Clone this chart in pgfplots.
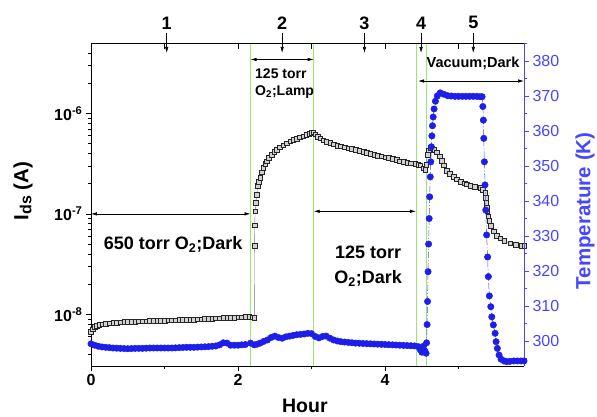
\documentclass[border=0pt]{standalone}
\usepackage{fontspec}
\setmainfont{Liberation Sans}
\usepackage{pgfplots}
\pgfplotsset{compat=1.18}
\usetikzlibrary{arrows.meta}

\definecolor{tblue}{RGB}{30,30,235}
\definecolor{ablue}{RGB}{70,70,255}
\definecolor{lgreen}{RGB}{150,235,110}

\tikzset{
  dbl/.style={line width=0.6pt, {Latex[length=6pt,width=3.5pt]}-{Latex[length=6pt,width=3.5pt]}},
  down/.style={line width=0.6pt, -{Latex[length=6pt,width=3.5pt]}},
}

\begin{document}
\begin{tikzpicture}
\useasboundingbox (-91pt,-50pt) rectangle (506pt,366pt);

% left axis: current, log scale
\begin{axis}[
  scale only axis, width=433pt, height=322.5pt,
  xmin=0, xmax=5.89,
  ymode=log, ymin=3.06e-9, ymax=4.96e-6,
  axis x line*=bottom, axis y line*=left,
  axis line style={line width=0.8pt},
  xtick={0,2,4}, minor xtick={1,3,5},
  ytick={1e-8,1e-7,1e-6},
  yticklabels={10\textsuperscript{-8},10\textsuperscript{-7},10\textsuperscript{-6}},
  minor ytick={4e-9,5e-9,6e-9,7e-9,8e-9,9e-9,2e-8,3e-8,4e-8,5e-8,6e-8,7e-8,8e-8,9e-8,2e-7,3e-7,4e-7,5e-7,6e-7,7e-7,8e-7,9e-7,2e-6,3e-6,4e-6},
  tick align=outside,
  major tick length=5pt, minor tick length=3pt,
  tick style={line width=0.6pt, black},
  ticklabel style={font=\fontsize{16}{18}\selectfont\bfseries},
  /pgf/number format/assume math mode=true,
  xlabel={Hour},
  xlabel style={font=\fontsize{19.5}{21}\selectfont\bfseries, at={(axis description cs:0.494,-0.124)}, anchor=center},
  ylabel={I\raisebox{-3pt}{\fontsize{16}{16}\selectfont ds} (A)},
  ylabel style={font=\fontsize{20.5}{22}\selectfont\bfseries, at={(axis description cs:-0.157,0.543)}, anchor=center},
  clip=false,
]
% phase boundaries
\draw[lgreen, line width=0.8pt] (axis cs:2.17,3.06e-9) -- (axis cs:2.17,4.96e-6);
\draw[lgreen, line width=0.8pt] (axis cs:3.03,3.06e-9) -- (axis cs:3.03,4.96e-6);
\draw[lgreen, line width=0.8pt] (axis cs:4.42,3.06e-9) -- (axis cs:4.42,4.96e-6);
\draw[lgreen, line width=0.8pt] (axis cs:4.56,3.06e-9) -- (axis cs:4.56,4.96e-6);

\addplot[black!55, line width=0.4pt, mark=square*, mark size=2.3pt,
  mark options={fill=black!18, draw=black!85, line width=0.4pt}] coordinates {
(0.00,6.7e-9)(0.02,7.1e-9)(0.05,7.5e-9)(0.08,7.7e-9)(0.11,7.85e-9)(0.15,8.0e-9)
(0.20,8.1e-9)(0.25,8.2e-9)(0.30,8.25e-9)(0.35,8.3e-9)(0.40,8.35e-9)(0.45,8.4e-9)
(0.50,8.45e-9)(0.55,8.48e-9)(0.60,8.5e-9)(0.65,8.53e-9)(0.70,8.55e-9)(0.75,8.58e-9)
(0.80,8.6e-9)(0.85,8.63e-9)(0.90,8.65e-9)(0.95,8.68e-9)(1.00,8.7e-9)(1.05,8.73e-9)
(1.10,8.75e-9)(1.15,8.78e-9)(1.20,8.8e-9)(1.25,8.83e-9)(1.30,8.86e-9)(1.35,8.88e-9)
(1.40,8.9e-9)(1.45,8.94e-9)(1.50,8.97e-9)(1.55,9.0e-9)(1.60,9.05e-9)(1.65,9.08e-9)
(1.70,9.12e-9)(1.75,9.15e-9)(1.80,9.2e-9)(1.85,9.24e-9)(1.90,9.28e-9)(1.95,9.31e-9)
(2.00,9.35e-9)(2.05,9.4e-9)(2.10,9.45e-9)(2.15,9.5e-9)(2.20,9.4e-9)(2.222,9.2e-9)
(2.225,4.8e-8)(2.228,7.7e-8)(2.232,1.06e-7)(2.242,1.3e-7)(2.254,1.56e-7)(2.27,1.9e-7)
(2.285,2.1e-7)(2.30,2.28e-7)(2.32,2.6e-7)(2.344,2.87e-7)(2.37,3.15e-7)(2.39,3.34e-7)
(2.42,3.6e-7)(2.458,3.9e-7)(2.49,4.15e-7)(2.526,4.37e-7)(2.57,4.6e-7)(2.617,4.83e-7)
(2.66,5.05e-7)(2.707,5.3e-7)(2.75,5.45e-7)(2.798,5.63e-7)(2.84,5.78e-7)(2.889,5.93e-7)
(2.93,6.1e-7)(2.97,6.25e-7)(3.00,6.4e-7)(3.025,6.47e-7)
(3.05,6.2e-7)(3.08,5.9e-7)(3.116,5.64e-7)(3.16,5.4e-7)(3.20,5.25e-7)(3.252,5.1e-7)
(3.30,4.95e-7)(3.35,4.8e-7)(3.40,4.7e-7)(3.45,4.6e-7)(3.50,4.52e-7)(3.55,4.45e-7)
(3.60,4.35e-7)(3.65,4.25e-7)(3.707,4.15e-7)(3.75,4.05e-7)(3.80,3.98e-7)(3.85,3.9e-7)
(3.90,3.8e-7)(3.95,3.74e-7)(4.00,3.68e-7)(4.05,3.6e-7)(4.10,3.53e-7)(4.159,3.45e-7)
(4.20,3.35e-7)(4.25,3.3e-7)(4.30,3.25e-7)(4.35,3.2e-7)(4.408,3.15e-7)(4.45,3.1e-7)
(4.476,3.05e-7)(4.52,2.85e-7)(4.544,2.77e-7)(4.56,3.1e-7)(4.576,3.9e-7)(4.595,4.3e-7)
(4.612,4.57e-7)(4.64,4.5e-7)(4.67,4.35e-7)(4.703,4.1e-7)(4.74,3.75e-7)(4.771,3.4e-7)
(4.80,3.05e-7)(4.84,2.7e-7)(4.88,2.5e-7)(4.93,2.33e-7)(4.975,2.21e-7)(5.03,2.1e-7)
(5.08,2.02e-7)(5.11,1.97e-7)(5.16,1.92e-7)(5.22,1.87e-7)(5.293,1.83e-7)(5.33,1.75e-7)
(5.361,1.62e-7)(5.367,1.45e-7)(5.374,1.29e-7)(5.385,1.15e-7)(5.392,1.06e-7)(5.405,9.5e-8)
(5.419,8.5e-8)(5.44,7.6e-8)(5.474,6.7e-8)(5.52,6.1e-8)(5.565,5.75e-8)(5.62,5.4e-8)
(5.70,5.1e-8)(5.78,4.95e-8)(5.85,4.85e-8)(5.89,4.8e-8)
};

% annotations
\draw[dbl] (axis cs:0,1e-7) -- (axis cs:2.17,1e-7);
\node[font=\fontsize{18}{20}\selectfont\bfseries] at (axis cs:1.116,5e-8) {650 torr O\textsubscript{2};Dark};
\draw[dbl] (axis cs:2.17,3.44e-6) -- (axis cs:3.03,3.44e-6);
\node[anchor=north west, inner sep=0pt, align=left, font=\fontsize{14}{17}\selectfont\bfseries]
  at (axis cs:2.231,2.82e-6) {125 torr\\O\textsubscript{2};Lamp};
\draw[dbl] (axis cs:3.03,1.06e-7) -- (axis cs:4.42,1.06e-7);
\node[align=center, font=\fontsize{18}{25}\selectfont\bfseries] at (axis cs:3.769,3.02e-8) {125 torr\\O\textsubscript{2};Dark};
\draw[dbl] (axis cs:4.45,2.1e-6) -- (axis cs:5.89,2.1e-6);
\node[font=\fontsize{14.5}{17}\selectfont\bfseries] at (axis cs:5.197,3.145e-6) {Vacuum;Dark};
\end{axis}

% right axis: temperature
\begin{axis}[
  scale only axis, width=433pt, height=322.5pt,
  xmin=0, xmax=5.89, ymin=292.86, ymax=385,
  axis x line*=top, axis y line*=right,
  x axis line style={line width=0.8pt, black},
  y axis line style={line width=0.8pt, ablue},
  xtick={1,2,3,4,5}, xticklabels={}, xtick align=inside,
  xtick style={line width=0.6pt, black},
  ytick={300,310,...,380}, minor ytick={295,305,...,385},
  ytick align=outside,
  ytick style={line width=0.6pt, ablue},
  major tick length=5pt, minor tick length=3pt,
  yticklabel style={ablue, font=\fontsize{16}{18}\selectfont},
  /pgf/number format/assume math mode=true,
  ylabel={Temperature (K)},
  ylabel style={ablue, font=\fontsize{20.5}{22}\selectfont\bfseries, at={(axis description cs:1.141,0.481)}, anchor=center},
  clip=false,
]
\addplot[ablue, line width=0.5pt, dash pattern=on 6pt off 2pt on 1pt off 2pt,
  mark=*, mark size=3.2pt, mark options={solid, fill=tblue, draw=tblue}] coordinates {
(0.00,299.2)(0.05,298.8)(0.10,298.5)(0.15,298.3)(0.20,298.2)(0.25,298.1)(0.30,298.0)
(0.35,297.95)(0.40,297.9)(0.45,297.85)(0.50,297.8)(0.55,297.85)(0.60,297.9)(0.65,297.9)
(0.70,297.9)(0.75,297.95)(0.80,298.0)(0.85,298.0)(0.90,298.0)(0.95,298.0)(1.00,298.0)
(1.05,298.0)(1.10,298.0)(1.15,298.05)(1.20,298.1)(1.25,298.15)(1.30,298.2)(1.35,298.2)
(1.40,298.2)(1.45,298.25)(1.50,298.3)(1.55,298.35)(1.60,298.4)(1.65,298.5)(1.70,298.6)
(1.75,298.9)(1.80,299.5)(1.85,299.4)(1.90,298.8)(1.95,298.8)(2.00,298.8)(2.05,298.9)
(2.10,299.0)(2.17,299.4)(2.22,298.9)(2.26,299.1)(2.30,299.4)(2.35,299.9)(2.40,300.3)
(2.45,301.0)(2.50,301.4)(2.55,301.0)(2.60,300.8)(2.65,301.2)(2.70,301.4)(2.75,301.6)
(2.80,301.8)(2.85,301.9)(2.90,302.0)(2.95,302.2)(3.00,302.1)(3.05,301.3)(3.10,300.9)
(3.15,301.3)(3.20,301.4)(3.25,300.8)(3.30,300.3)(3.35,300.0)(3.40,299.8)(3.45,299.7)
(3.50,299.6)(3.55,299.5)(3.60,299.4)(3.65,299.35)(3.70,299.3)(3.75,299.25)(3.80,299.2)
(3.85,299.15)(3.90,299.1)(3.95,299.05)(4.00,299.0)(4.05,298.95)(4.10,298.9)(4.15,298.85)
(4.20,298.8)(4.25,298.75)(4.30,298.7)(4.35,298.65)(4.40,298.6)(4.45,298.4)(4.48,297.5)
(4.50,296.8)(4.52,298.5)(4.54,297.2)(4.558,296.5)
(4.565,299.5)(4.572,304.7)(4.578,311.3)(4.585,319.8)(4.592,327.7)(4.600,335.0)
(4.607,341.2)(4.615,346.9)(4.622,351.2)(4.630,355.5)(4.637,358.6)(4.645,361.5)
(4.655,364.0)(4.667,366.3)(4.685,368.5)(4.71,370.0)(4.75,370.9)(4.80,370.5)(4.85,370.1)
(4.90,370.0)(4.95,369.9)(5.00,369.9)(5.05,369.9)(5.10,369.9)(5.15,369.9)(5.20,369.9)
(5.25,369.9)(5.29,369.8)(5.32,369.8)
(5.330,367.0)(5.337,363.1)(5.343,357.9)(5.351,351.2)(5.360,344.6)(5.370,337.4)
(5.382,330.3)(5.395,324.0)(5.405,318.4)(5.419,312.9)(5.438,309.8)(5.452,306.9)
(5.473,304.6)(5.497,302.2)(5.510,299.8)(5.528,297.9)(5.551,296.0)(5.578,294.8)
(5.62,294.3)(5.656,294.1)(5.70,294.2)(5.75,294.3)(5.80,294.3)(5.85,294.3)(5.89,294.3)
};

% stage markers above the frame
\foreach \t/\n in {1.03/1,2.60/2,3.72/3,4.49/4,5.20/5}{
  \edef\tmp{\noexpand\draw[down] (axis cs:\t,388.0) -- (axis cs:\t,382.3);
    \noexpand\node[font=\noexpand\fontsize{18}{20}\noexpand\selectfont\noexpand\bfseries] at (axis cs:\t,390.9) {\n};}
  \tmp
}
\end{axis}
\end{tikzpicture}
\end{document}
